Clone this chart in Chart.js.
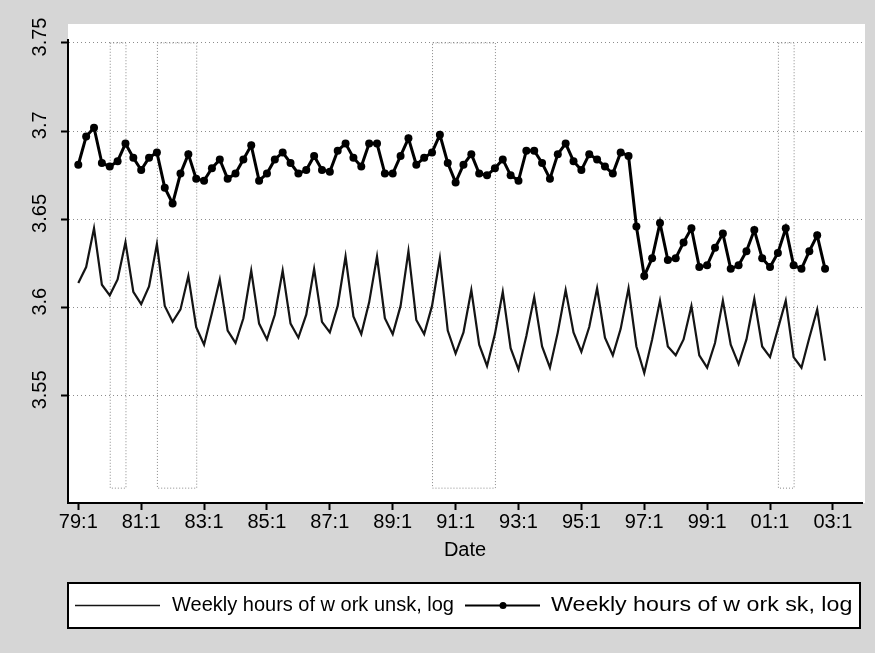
<!DOCTYPE html>
<html><head><meta charset="utf-8">
<script src="https://cdn.jsdelivr.net/npm/chart.js@4"></script>
<style>html,body{margin:0;padding:0;background:#d6d6d6}#c{display:block}</style>
</head><body>
<canvas id="c" width="875" height="653"></canvas>
<script>
// ---- data ----
const years = ['79','80','81','82','83','84','85','86','87','88','89','90','91','92','93','94','95','96','97','98','99','00','01','02'];
const quarters = [];
years.forEach(y => { for (let q = 1; q <= 4; q++) quarters.push(y + ':' + q); });

const unskilled = [
 3.614,3.623,3.645,3.613, 3.607,3.616,3.637,3.609, 3.602,3.612,3.636,3.601, 3.592,3.599,3.618,3.589,
 3.579,3.597,3.616,3.587, 3.580,3.594,3.621,3.591, 3.582,3.596,3.621,3.591, 3.583,3.596,3.622,3.592,
 3.586,3.601,3.629,3.595, 3.585,3.603,3.629,3.594, 3.585,3.601,3.632,3.593, 3.585,3.601,3.628,3.587,
 3.574,3.586,3.610,3.579, 3.567,3.585,3.609,3.577, 3.565,3.584,3.606,3.578, 3.566,3.586,3.610,3.586,
 3.575,3.589,3.611,3.583, 3.573,3.588,3.611,3.578, 3.563,3.582,3.604,3.578, 3.573,3.582,3.601,3.573,
 3.566,3.580,3.604,3.579, 3.568,3.582,3.605,3.578, 3.572,3.588,3.604,3.572, 3.566,3.583,3.599,3.570
];
const skilled = [
 3.681,3.697,3.702,3.682, 3.680,3.683,3.693,3.685, 3.678,3.685,3.688,3.668, 3.659,3.676,3.687,3.673,
 3.672,3.679,3.684,3.673, 3.676,3.684,3.692,3.672, 3.676,3.684,3.688,3.682, 3.676,3.678,3.686,3.678,
 3.677,3.689,3.693,3.685, 3.680,3.693,3.693,3.676, 3.676,3.686,3.696,3.681, 3.685,3.688,3.698,3.682,
 3.671,3.681,3.687,3.676, 3.675,3.679,3.684,3.675, 3.672,3.689,3.689,3.682, 3.673,3.687,3.693,3.683,
 3.678,3.687,3.684,3.680, 3.676,3.688,3.686,3.646, 3.618,3.628,3.648,3.627, 3.628,3.637,3.645,3.623,
 3.624,3.634,3.642,3.622, 3.624,3.632,3.644,3.628, 3.623,3.631,3.645,3.624, 3.622,3.632,3.641,3.622
];
const xTickLabels = ['79:1','81:1','83:1','85:1','87:1','89:1','91:1','93:1','95:1','97:1','99:1','01:1','03:1'];
const yTickValues = [3.55, 3.6, 3.65, 3.7, 3.75];
const yTickLabels = ['3.55', '3.6', '3.65', '3.7', '3.75'];
const recessions = [['80:1','80:3'], ['81:3','82:4'], ['90:2','92:2'], ['01:2','01:4']];
const seriesNames = ['Weekly hours of w ork unsk, log', 'Weekly hours of w ork sk, log'];

// ---- helpers ----
function qIndex(label) {            // quarter label -> position on the time axis
  const [yy, q] = label.split(':');
  let y = parseInt(yy, 10); y = y < 50 ? y + 100 : y;
  return (y - 79) * 4 + (parseInt(q, 10) - 1);
}
const toPoints = arr => arr.map((v, i) => ({ x: qIndex(quarters[i]), y: v }));
const FONT = 'Liberation Sans, Arial, sans-serif';

const bgPlugin = {
  id: 'bg',
  beforeDraw(chart) {
    const { ctx, chartArea } = chart;
    ctx.save();
    ctx.fillStyle = '#d6d6d6';
    ctx.fillRect(0, 0, chart.width, chart.height);
    ctx.fillStyle = '#ffffff';
    ctx.fillRect(chartArea.left, 24, 865 - chartArea.left, chartArea.bottom - 24);
    ctx.restore();
  }
};

const recessionPlugin = {
  id: 'recessions',
  beforeDatasetsDraw(chart) {
    const { ctx } = chart;
    const xs = chart.scales.x, ys = chart.scales.y;
    ctx.save();
    ctx.strokeStyle = '#8a8a8a';
    ctx.lineWidth = 1;
    ctx.setLineDash([1, 2]);
    recessions.forEach(([a, b]) => {
      const x1 = xs.getPixelForValue(qIndex(a));
      const x2 = xs.getPixelForValue(qIndex(b));
      const y1 = ys.getPixelForValue(3.7503);
      const y2 = ys.getPixelForValue(3.498);
      ctx.strokeRect(x1 + 0.5, y1 + 0.5, x2 - x1, y2 - y1);
    });
    ctx.restore();
  }
};

const yLabelPlugin = {
  id: 'ylabels',
  afterDraw(chart) {
    const { ctx } = chart;
    const ys = chart.scales.y;
    ctx.save();
    ctx.fillStyle = '#000';
    ctx.font = '20px ' + FONT;
    ctx.textAlign = 'center';
    ctx.textBaseline = 'middle';
    yTickValues.forEach((v, i) => {
      const py = ys.getPixelForValue(v) - 6;
      ctx.save();
      ctx.translate(40, py);
      ctx.rotate(-Math.PI / 2);
      ctx.fillText(yTickLabels[i], 0, 0);
      ctx.restore();
    });
    ctx.restore();
  }
};

const legendPlugin = {
  id: 'customLegend',
  afterDraw(chart) {
    const { ctx } = chart;
    const ds = chart.data.datasets;
    const L = 68, R = 860, T = 583, B = 628, mid = (T + B) / 2;
    ctx.save();
    ctx.fillStyle = '#fff';
    ctx.fillRect(L, T, R - L, B - T);
    ctx.beginPath();
    ctx.rect(L, T, R - L, B - T);
    ctx.clip();
    // item 1
    ctx.strokeStyle = ds[0].borderColor; ctx.lineWidth = 1.5;
    ctx.beginPath(); ctx.moveTo(75, mid); ctx.lineTo(160, mid); ctx.stroke();
    ctx.fillStyle = '#000';
    ctx.font = '20px ' + FONT;
    ctx.textBaseline = 'middle';
    ctx.textAlign = 'left';
    ctx.fillText(ds[0].label, 172, mid);
    // item 2
    ctx.strokeStyle = ds[1].borderColor; ctx.lineWidth = 2;
    ctx.beginPath(); ctx.moveTo(465, mid); ctx.lineTo(540, mid); ctx.stroke();
    ctx.beginPath(); ctx.arc(503, mid, 3.5, 0, Math.PI * 2); ctx.fillStyle = '#000'; ctx.fill();
    ctx.save();
    ctx.translate(551, mid);
    ctx.scale(1.16, 1);
    ctx.fillText(ds[1].label, 0, 0);
    ctx.restore();
    ctx.restore();
    ctx.save();
    ctx.strokeStyle = '#000'; ctx.lineWidth = 2;
    ctx.strokeRect(L, T, R - L, B - T);
    ctx.restore();
  }
};

new Chart(document.getElementById('c'), {
  type: 'line',
  data: {
    datasets: [
      { label: seriesNames[0], data: toPoints(unskilled), borderColor: '#141414', borderWidth: 2.2,
        pointRadius: 0, tension: 0, fill: false },
      { label: seriesNames[1], data: toPoints(skilled), borderColor: '#000', borderWidth: 3,
        pointRadius: 4, pointBackgroundColor: '#000', pointBorderWidth: 0, tension: 0, fill: false }
    ]
  },
  options: {
    responsive: false,
    animation: false,
    devicePixelRatio: 1,
    layout: { padding: { top: 40, right: 13, bottom: 91, left: 0 } },
    plugins: { legend: { display: false }, tooltip: { enabled: false } },
    scales: {
      x: {
        type: 'linear',
        min: -1.31, max: 99.7,
        afterBuildTicks: s => { s.ticks = xTickLabels.map(l => ({ value: qIndex(l) })); },
        afterFit: s => { s.height = 59; },
        ticks: {
          autoSkip: false, maxRotation: 0, minRotation: 0, padding: 0,
          color: '#000', font: { size: 20, family: FONT },
          callback: v => xTickLabels.find(l => qIndex(l) === v) || ''
        },
        grid: { drawOnChartArea: false, drawTicks: true, tickLength: 7, tickColor: '#000', tickWidth: 2 },
        border: { display: true, color: '#000', width: 2 },
        title: { display: true, text: 'Date', color: '#000', font: { size: 20, family: FONT }, padding: 0 }
      },
      y: {
        min: 3.4893, max: 3.7517,
        afterBuildTicks: s => { s.ticks = yTickValues.map(v => ({ value: v })); },
        afterFit: s => { s.width = 68; },
        ticks: { callback: () => '', padding: 0 },
        grid: { color: '#8c8c8c', lineWidth: 1, drawTicks: true, tickLength: 7, tickColor: '#000', tickWidth: 2 },
        border: { display: true, color: '#000', width: 2, dash: [1, 3] }
      }
    }
  },
  plugins: [bgPlugin, recessionPlugin, yLabelPlugin, legendPlugin]
});
</script></body></html>
